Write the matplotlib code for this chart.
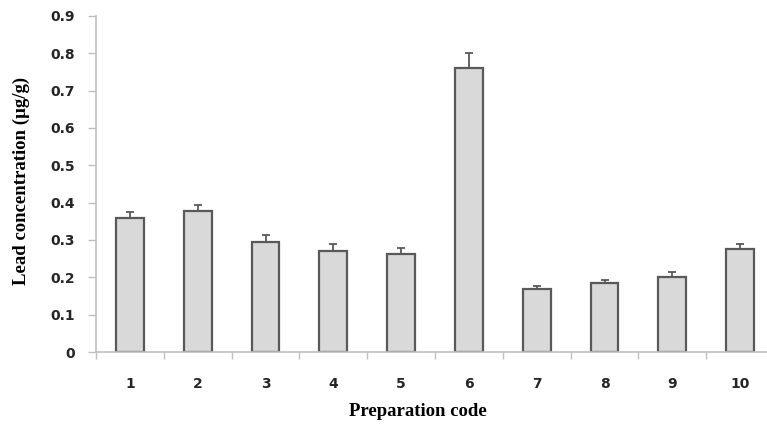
import numpy as np
import matplotlib.pyplot as plt
from matplotlib.ticker import FixedLocator, MultipleLocator

codes = ['1', '2', '3', '4', '5', '6', '7', '8', '9', '10']
lead = [0.360, 0.378, 0.295, 0.271, 0.263, 0.760, 0.168, 0.186, 0.202, 0.275]
err = [0.016, 0.017, 0.018, 0.017, 0.015, 0.040, 0.010, 0.007, 0.011, 0.014]

fig = plt.figure(figsize=(7.67, 4.25), dpi=100)
# axis runs a little past the right edge, as in the original
ax = fig.add_axes([96/767, 1 - 352/425, 678/767, (352 - 16)/425])

x = np.arange(1, len(codes) + 1)
ax.bar(x, lead, width=0.41, color='#d9d9d9', edgecolor='#595959', linewidth=1.6,
       zorder=2)
ax.errorbar(x, lead, yerr=[np.zeros(len(err)), err], fmt='none', ecolor='#595959',
            elinewidth=1.3, capsize=3, capthick=1.3, zorder=3)

ax.set_xlim(0.5, 10.5)
ax.set_ylim(0, 0.9)
ax.yaxis.set_major_locator(MultipleLocator(0.1))
ax.set_yticklabels(['0' if v == 0 else f'{v:.1f}' for v in ax.get_yticks()])

ax.xaxis.set_major_locator(FixedLocator(np.arange(0.5, 11, 1)))
ax.xaxis.set_minor_locator(FixedLocator(x))
ax.set_xticklabels([], minor=False)
ax.set_xticklabels(codes, minor=True)
ax.tick_params(axis='x', which='major', length=5, color='#bfbfbf', width=1)
ax.tick_params(axis='x', which='minor', length=0, pad=18)
ax.tick_params(axis='y', length=6, color='#bfbfbf', width=1, pad=9)
for lab in ax.get_xticklabels(minor=True) + ax.get_yticklabels():
    lab.set_fontweight('bold')
    lab.set_fontsize(10)
    lab.set_color('#262626')
    lab.set_family('DejaVu Sans')

for s in ['top', 'right']:
    ax.spines[s].set_visible(False)
for s in ['left', 'bottom']:
    ax.spines[s].set_color('#bfbfbf')
    ax.spines[s].set_linewidth(1.2)

fig.text(21/767, 1 - 181/425, 'Lead concentration (µg/g)', rotation=90,
         ha='center', va='center', family='Liberation Serif', fontweight='bold',
         fontsize=13.5)
fig.text(418/767, 1 - 411/425, 'Preparation code', ha='center', va='center',
         family='Liberation Serif', fontweight='bold', fontsize=13.5)

fig.savefig('out.png', dpi=100)
